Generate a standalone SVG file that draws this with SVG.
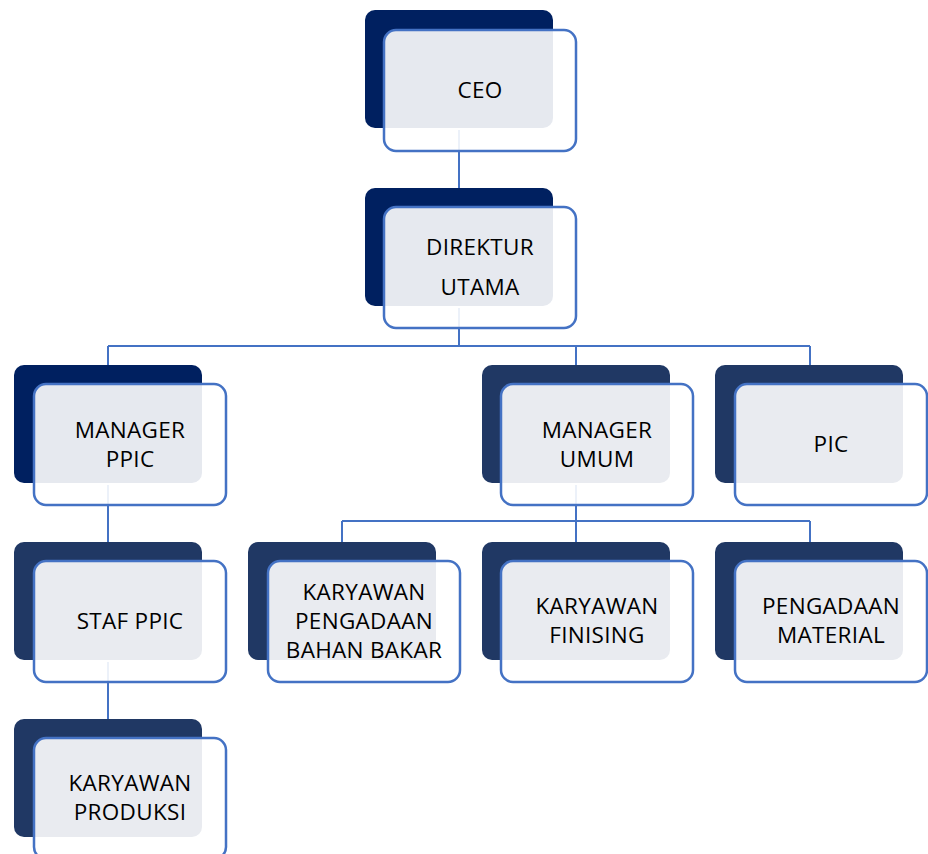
<svg xmlns="http://www.w3.org/2000/svg" width="928" height="854" viewBox="0 0 928 854">
<style>
.bg{fill:#ffffff}
.d1{fill:#002060}
.d2{fill:#203864}
.fr{fill:#ffffff;fill-opacity:0.9;stroke:#4472C4;stroke-width:2.5}
.ln{fill:none;stroke:#4472C4;stroke-width:2}
text{font-family:"Open Sans","Noto Sans","Liberation Sans",sans-serif;font-size:22.5px;fill:#000000;text-anchor:middle;letter-spacing:0.3px}
</style>
<rect class="bg" x="0" y="0" width="928" height="854"/>
<g id="connectors">
<path class="ln" d="M459,130 V188"/>
<path class="ln" d="M459,308 V346 M108,346 H810 M108,346 V365 M576,346 V365 M810,346 V365"/>
<path class="ln" d="M108,485 V542"/>
<path class="ln" d="M108,662 V719"/>
<path class="ln" d="M576,485 V521 M342,521 H810 M342,521 V542 M576,521 V542 M810,521 V542"/>
</g>
<g id="ceo">
<rect class="d1" x="365" y="10" width="188" height="118" rx="10"/>
<rect class="fr" x="384" y="30" width="192" height="121" rx="12"/>
<text x="480" y="98">CEO</text>
</g>
<g id="direktur">
<rect class="d1" x="365" y="188" width="188" height="118" rx="10"/>
<rect class="fr" x="384" y="207" width="192" height="121" rx="12"/>
<text x="480" y="255">DIREKTUR</text>
<text x="480" y="295">UTAMA</text>
</g>
<g id="manager-ppic">
<rect class="d1" x="14" y="365" width="188" height="118" rx="10"/>
<rect class="fr" x="34" y="384" width="192" height="121" rx="12"/>
<text x="130" y="438">MANAGER</text>
<text x="130" y="467">PPIC</text>
</g>
<g id="manager-umum">
<rect class="d2" x="482" y="365" width="188" height="118" rx="10"/>
<rect class="fr" x="501" y="384" width="192" height="121" rx="12"/>
<text x="597" y="438">MANAGER</text>
<text x="597" y="467">UMUM</text>
</g>
<g id="pic">
<rect class="d2" x="715" y="365" width="188" height="118" rx="10"/>
<rect class="fr" x="735" y="384" width="192" height="121" rx="12"/>
<text x="831" y="452">PIC</text>
</g>
<g id="staf-ppic">
<rect class="d2" x="14" y="542" width="188" height="118" rx="10"/>
<rect class="fr" x="34" y="561" width="192" height="121" rx="12"/>
<text x="130" y="629">STAF PPIC</text>
</g>
<g id="karyawan-pengadaan">
<rect class="d2" x="248" y="542" width="188" height="118" rx="10"/>
<rect class="fr" x="268" y="561" width="192" height="121" rx="12"/>
<text x="364" y="600">KARYAWAN</text>
<text x="364" y="629">PENGADAAN</text>
<text x="364" y="658">BAHAN BAKAR</text>
</g>
<g id="karyawan-finising">
<rect class="d2" x="482" y="542" width="188" height="118" rx="10"/>
<rect class="fr" x="501" y="561" width="192" height="121" rx="12"/>
<text x="597" y="614">KARYAWAN</text>
<text x="597" y="643">FINISING</text>
</g>
<g id="pengadaan-material">
<rect class="d2" x="715" y="542" width="188" height="118" rx="10"/>
<rect class="fr" x="735" y="561" width="192" height="121" rx="12"/>
<text x="831" y="614">PENGADAAN</text>
<text x="831" y="643">MATERIAL</text>
</g>
<g id="karyawan-produksi">
<rect class="d2" x="14" y="719" width="188" height="118" rx="10"/>
<rect class="fr" x="34" y="738" width="192" height="121" rx="12"/>
<text x="130" y="791">KARYAWAN</text>
<text x="130" y="820">PRODUKSI</text>
</g>
</svg>
